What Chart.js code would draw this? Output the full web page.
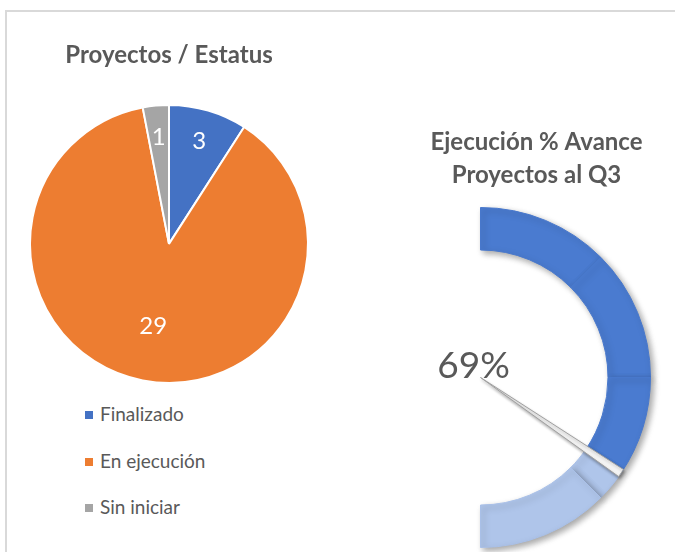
<!DOCTYPE html>
<html><head><meta charset="utf-8">
<script src="https://cdn.jsdelivr.net/npm/chart.js@4/dist/chart.umd.min.js"></script>
<style>
html,body{margin:0;padding:0;background:#fff;width:675px;height:552px;overflow:hidden;font-family:Lato,"Open Sans",sans-serif;}
#frame{position:absolute;left:5px;top:10px;width:690px;height:560px;border-left:2px solid #d9d9d9;border-top:2px solid #d9d9d9;}
#pieWrap{position:absolute;left:0;top:0;width:340px;height:400px;}
#gaugeWrap,#needleWrap{position:absolute;left:340px;top:0;width:335px;height:552px;}
#legend{position:absolute;left:85px;top:400px;margin:0;padding:0;list-style:none;}
#legend li{height:46.5px;line-height:28px;font-size:19px;color:#595959;white-space:nowrap;}
#legend li span.box{display:inline-block;width:8px;height:8px;margin-right:7px;vertical-align:middle;position:relative;top:-1px;}
</style>
</head><body>
<div id="frame"></div>
<div id="pieWrap"><canvas id="pie"></canvas></div>
<ul id="legend"></ul>
<div id="gaugeWrap"><canvas id="gauge"></canvas></div>
<div id="needleWrap"><canvas id="needle"></canvas></div>
<script>
// ---- data ----
const pieTitle = 'Proyectos / Estatus';
const statusLabels = ['Finalizado', 'En ejecución', 'Sin iniciar'];
const statusValues = [3, 29, 1];
const statusColors = ['#4472C4', '#ED7D31', '#A5A5A5'];

const gaugeTitle = ['Ejecución % Avance', 'Proyectos al Q3'];
const gaugeValue = 69; // %
const gaugeSegmentLabels = ['0-25', '25-50', '50-69', '69-75', '75-100'];
const gaugeSegments = [25, 25, 19, 6, 25];
const gaugeColors = ['#4A7BD0', '#4A7BD0', '#4A7BD0', '#AFC5EA', '#AFC5EA'];
const gaugeBorders = ['#4878CC', '#4878CC', '#4878CC', '#A9C0E8', '#A9C0E8'];
const needleWidth = 1.6;
const needleData = [gaugeValue - needleWidth / 2, needleWidth, 100 - gaugeValue - needleWidth / 2];

const FONT = 'Lato, "Open Sans", sans-serif';
const TEXT = '#595959';

// ---- legend (HTML) ----
const ul = document.getElementById('legend');
statusLabels.forEach((l, i) => {
  const li = document.createElement('li');
  const b = document.createElement('span'); b.className = 'box'; b.style.background = statusColors[i];
  li.appendChild(b); li.appendChild(document.createTextNode(l));
  ul.appendChild(li);
});

// ---- pie value labels ----
const pieLabels = {
  id: 'pieLabels',
  afterDatasetsDraw(chart) {
    const meta = chart.getDatasetMeta(0);
    const total = statusValues.reduce((a, b) => a + b, 0);
    const ctx = chart.ctx;
    ctx.save();
    ctx.font = '24px ' + FONT;
    ctx.fillStyle = '#ffffff';
    ctx.textAlign = 'center'; ctx.textBaseline = 'middle';
    meta.data.forEach((arc, i) => {
      const mid = (arc.startAngle + arc.endAngle) / 2;
      const f = statusValues[i] / total > 0.5 ? 0.6 : 0.77;
      const r = arc.outerRadius * f;
      ctx.fillText(String(statusValues[i]), arc.x + Math.cos(mid) * r, arc.y + Math.sin(mid) * r);
    });
    ctx.restore();
  }
};

new Chart(document.getElementById('pie'), {
  type: 'pie',
  data: { labels: statusLabels, datasets: [{ data: statusValues, backgroundColor: statusColors, borderColor: '#ffffff', borderWidth: 2 }] },
  options: {
    responsive: true, maintainAspectRatio: false, animation: false,
    layout: { padding: { top: 0, left: 29, right: 31, bottom: 16 } },
    plugins: {
      legend: { display: false }, tooltip: { enabled: false },
      title: { display: true, text: pieTitle, color: TEXT, font: { family: FONT, size: 24, weight: 'bold', lineHeight: 1.2 }, padding: { top: 41, bottom: 34 } }
    }
  },
  plugins: [pieLabels]
});

// ---- gauge ----
function shadow(id, color, blur, ox, oy) {
  return {
    id,
    beforeDatasetsDraw(chart) { const c = chart.ctx; c.save(); c.shadowColor = color; c.shadowBlur = blur; c.shadowOffsetX = ox; c.shadowOffsetY = oy; },
    afterDatasetsDraw(chart) { chart.ctx.restore(); }
  };
}
// place the gauge title box (it is not centred over the half ring in the original)
const titleBox = {
  id: 'titleBox',
  afterLayout(chart, args, opts) {
    const t = chart.titleBlock;
    if (t) { t.left = opts.left; t.right = opts.right; t.width = opts.right - opts.left; }
  }
};

new Chart(document.getElementById('gauge'), {
  type: 'doughnut',
  data: { labels: gaugeSegmentLabels, datasets: [{ data: gaugeSegments, backgroundColor: gaugeColors, borderColor: gaugeBorders, borderWidth: 1 }] },
  options: {
    responsive: true, maintainAspectRatio: false, animation: false,
    circumference: 180, rotation: 0, cutout: '75%',
    layout: { padding: { top: 0, left: 140, right: 24, bottom: 4 } },
    plugins: {
      legend: { display: false }, tooltip: { enabled: false },
      title: { display: true, text: gaugeTitle, color: TEXT, font: { family: FONT, size: 24, weight: 'bold', lineHeight: 1.375 }, padding: { top: 126, bottom: 15 } },
      titleBox: { left: 60, right: 333 }
    }
  },
  plugins: [shadow('gShadow', 'rgba(0,0,0,0.35)', 6, 3, 3), titleBox]
});

const valueLabel = {
  id: 'valueLabel',
  beforeDatasetsDraw(chart) {
    const arc = chart.getDatasetMeta(0).data[1];
    const ctx = chart.ctx;
    ctx.save();
    ctx.font = '37px ' + FONT;
    ctx.fillStyle = TEXT;
    ctx.textAlign = 'center'; ctx.textBaseline = 'middle';
    ctx.fillText(gaugeValue + '%', arc.x - 7, arc.y - 11);
    ctx.restore();
  }
};

new Chart(document.getElementById('needle'), {
  type: 'pie',
  data: { labels: ['', 'Avance', ''], datasets: [{ data: needleData,
    backgroundColor: ['rgba(0,0,0,0)', '#f4f4f4', 'rgba(0,0,0,0)'],
    borderColor: ['rgba(0,0,0,0)', '#a0a0a0', 'rgba(0,0,0,0)'],
    borderWidth: [0, 1, 0] }] },
  options: {
    responsive: true, maintainAspectRatio: false, animation: false,
    circumference: 180, rotation: 0,
    layout: { padding: { top: 207, left: 140, right: 24, bottom: 4 } },
    plugins: { legend: { display: false }, tooltip: { enabled: false }, title: { display: false } }
  },
  plugins: [valueLabel, shadow('nShadow', 'rgba(0,0,0,0.3)', 3, 1, 2)]
});
</script>
</body></html>
